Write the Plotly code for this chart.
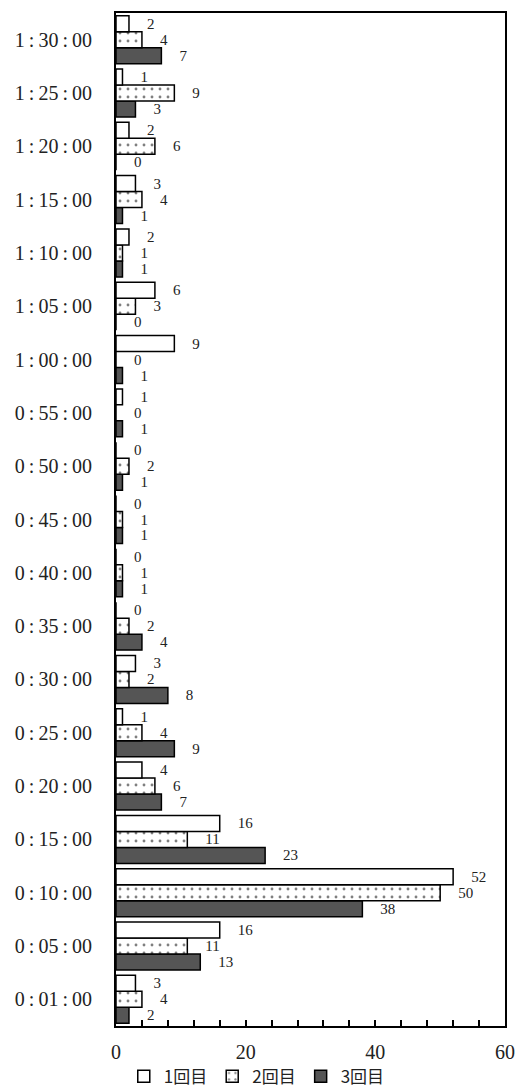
import plotly.graph_objects as go

categories = ["0:01:00", "0:05:00", "0:10:00", "0:15:00", "0:20:00", "0:25:00", "0:30:00",
              "0:35:00", "0:40:00", "0:45:00", "0:50:00", "0:55:00", "1:00:00", "1:05:00",
              "1:10:00", "1:15:00", "1:20:00", "1:25:00", "1:30:00"]
series1 = [3, 16, 52, 16, 4, 1, 3, 0, 0, 0, 0, 1, 9, 6, 2, 3, 2, 1, 2]
series2 = [4, 11, 50, 11, 6, 4, 2, 2, 1, 1, 2, 0, 0, 3, 1, 4, 6, 9, 4]
series3 = [2, 13, 38, 23, 7, 9, 8, 4, 1, 1, 1, 1, 1, 0, 1, 1, 0, 3, 7]
names = ["1回目", "2回目", "3回目"]
x_ticks = [0, 20, 40, 60]

# spaced-out display text for the category labels (wide colons like the original)
cat_text = [c.replace(":", "\u2009:\u2009") for c in categories]

label_font = dict(family="Liberation Serif, serif", size=15, color="#222222")
tmpl = "\u2002\u2002%{x}"

fig = go.Figure()
# add in reverse order so 1回目 is on top within each group
fig.add_trace(go.Bar(
    y=categories, x=series3, name=names[2], orientation="h",
    marker=dict(color="#555555", line=dict(color="black", width=1.5)),
    texttemplate=tmpl, textposition="outside", textfont=label_font,
    constraintext="none", cliponaxis=False))
fig.add_trace(go.Bar(
    y=categories, x=series2, name=names[1], orientation="h",
    marker=dict(color="white", line=dict(color="black", width=1.5),
                pattern=dict(shape=".", fgcolor="black", bgcolor="white",
                             size=8, solidity=0.1)),
    texttemplate=tmpl, textposition="outside", textfont=label_font,
    constraintext="none", cliponaxis=False))
fig.add_trace(go.Bar(
    y=categories, x=series1, name=names[0], orientation="h",
    marker=dict(color="white", line=dict(color="black", width=1.5)),
    texttemplate=tmpl, textposition="outside", textfont=label_font,
    constraintext="none", cliponaxis=False))

fig.update_layout(
    width=517, height=1088,
    margin=dict(l=116, r=12, t=13, b=62, autoexpand=False),
    paper_bgcolor="white", plot_bgcolor="white",
    barmode="group", bargap=0.1, bargroupgap=0,
    showlegend=True,
    legend=dict(orientation="h", traceorder="reversed", bgcolor="rgba(0,0,0,0)",
                x=0.02, xanchor="left", y=-0.05, yanchor="middle",
                font=dict(family="Noto Sans CJK JP, sans-serif", size=17, color="#222222"),
                itemwidth=30, tracegroupgap=0),
    font=dict(family="Liberation Serif, serif", color="#222222"),
)
fig.update_xaxes(
    range=[0, 60], tickvals=x_ticks, ticks="inside", ticklen=6, tickwidth=1.5,
    tickcolor="black", showgrid=False, zeroline=False, automargin=False,
    showline=True, linecolor="black", linewidth=2, mirror=True,
    tickfont=dict(family="Liberation Serif, serif", size=20, color="#222222"),
    ticklabelstandoff=7,
    minor=dict(dtick=4, tick0=0, ticks="inside", ticklen=6, tickwidth=1.5, tickcolor="black"),
)
fig.update_yaxes(
    categoryorder="array", categoryarray=categories,
    tickvals=categories, ticktext=cat_text,
    showgrid=False, zeroline=False, ticks="", automargin=False,
    showline=True, linecolor="black", linewidth=2, mirror=True,
    tickfont=dict(family="Liberation Serif, serif", size=20, color="#222222"),
    ticklabelstandoff=18,
)

fig.write_html("out.html", config={"displayModeBar": False},
               post_script="document.body.style.margin='0';document.body.style.overflow='hidden';")
